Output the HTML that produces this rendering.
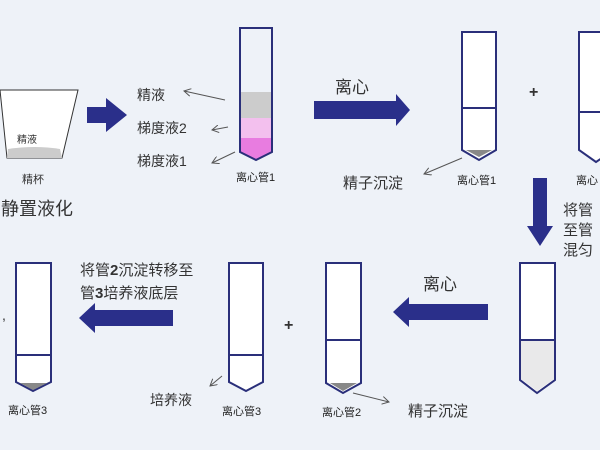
<!DOCTYPE html><html><head><meta charset="utf-8"><style>
body{margin:0;background:#eef2f8;}
svg{display:block;font-family:"Liberation Sans","Noto Sans CJK SC",sans-serif;}
</style></head><body>
<svg width="600" height="450" viewBox="0 0 600 450">
<rect width="600" height="450" fill="#eef2f8"/>
<defs><marker id="a" markerWidth="8" markerHeight="8" refX="7" refY="4" orient="auto"><path d="M0,0 L7,4 L0,8" fill="none" stroke="#555" stroke-width="1"/></marker></defs>
<!-- cup -->
<polygon points="0,90 78,90 62,158 7,158" fill="#fff" stroke="#333" stroke-width="1"/>
<path d="M8,149 Q35,145 60,149 L62,158 L7,158Z" fill="#ccc"/>
<text x="17" y="143" font-size="10" fill="#333">精液</text>
<text x="22" y="183" font-size="11" fill="#333">精杯</text>
<text x="1" y="215" font-size="18" fill="#333">静置液化</text>
<!-- arrow1 -->
<polygon points="87,107 106,107 106,98 127,115 106,132 106,123 87,123" fill="#2a2f8a"/>
<text x="137" y="100" font-size="14" fill="#333">精液</text>
<text x="137" y="133" font-size="14" fill="#333">梯度液2</text>
<text x="137" y="166" font-size="14" fill="#333">梯度液1</text>
<line x1="225" y1="100" x2="184" y2="91" stroke="#555" marker-end="url(#a)"/>
<line x1="228" y1="127" x2="212" y2="130" stroke="#555" marker-end="url(#a)"/>
<line x1="235" y1="152" x2="212" y2="163" stroke="#555" marker-end="url(#a)"/>
<!-- tube1 -->
<rect x="240" y="92" width="32" height="26" fill="#ccc"/>
<rect x="240" y="118" width="32" height="20" fill="#f3c0ee"/>
<polygon points="240,138 272,138 272,152 256,160 240,152" fill="#e87ce0"/>
<path d="M240,28 L272,28 L272,152 L256,160 L240,152 Z" fill="none" stroke="#2a2f7a" stroke-width="2"/>
<text x="236" y="181" font-size="11" fill="#222">离心管1</text>
<!-- top right -->
<text x="335" y="93" font-size="17" fill="#333">离心</text>
<polygon points="314,101 396,101 396,94 410,110 396,126 396,119 314,119" fill="#2a2f8a"/>
<path d="M462,32 L496,32 L496,150 L479,160 L462,150 Z" fill="#fff" stroke="#2a2f7a" stroke-width="2"/>
<line x1="462" y1="108" x2="496" y2="108" stroke="#2a2f7a" stroke-width="2"/>
<polygon points="466,150 492,150 479,157" fill="#888"/>
<text x="457" y="184" font-size="11" fill="#222">离心管1</text>
<text x="343" y="188" font-size="15" fill="#333">精子沉淀</text>
<line x1="462" y1="158" x2="424" y2="174" stroke="#555" marker-end="url(#a)"/>
<text x="529" y="97" font-size="16" font-weight="bold" fill="#333">+</text>
<path d="M579,32 L614,32 L614,150 L596,162 L579,150 Z" fill="#fff" stroke="#2a2f7a" stroke-width="2"/>
<line x1="579" y1="112" x2="614" y2="112" stroke="#2a2f7a" stroke-width="2"/>
<text x="576" y="184" font-size="11" fill="#222">离心</text>
<polygon points="533,178 547,178 547,226 553,226 540,246 527,226 533,226" fill="#2a2f8a"/>
<text x="563" y="215" font-size="15" fill="#333">将管</text>
<text x="563" y="235" font-size="15" fill="#333">至管</text>
<text x="563" y="255" font-size="15" fill="#333">混匀</text>
<!-- bottom right tube -->
<path d="M520,263 L555,263 L555,380 L537,393 L520,380 Z" fill="#fff" stroke="#2a2f7a" stroke-width="2"/>
<path d="M521,341 L554,341 L554,379 L537,391 L521,379Z" fill="#e9e9ea"/>
<line x1="520" y1="340" x2="555" y2="340" stroke="#2a2f7a" stroke-width="2"/>
<text x="423" y="290" font-size="17" fill="#333">离心</text>
<polygon points="488,304 409,304 409,297 393,312 409,327 409,320 488,320" fill="#2a2f8a"/>
<path d="M326,263 L361,263 L361,383 L343,393 L326,383 Z" fill="#fff" stroke="#2a2f7a" stroke-width="2"/>
<line x1="326" y1="340" x2="361" y2="340" stroke="#2a2f7a" stroke-width="2"/>
<polygon points="330,383 357,383 343,391" fill="#888"/>
<text x="322" y="416" font-size="11" fill="#222">离心管2</text>
<text x="408" y="416" font-size="15" fill="#333">精子沉淀</text>
<line x1="353" y1="393" x2="389" y2="402" stroke="#555" marker-end="url(#a)"/>
<text x="284" y="330" font-size="16" font-weight="bold" fill="#333">+</text>
<path d="M229,263 L263,263 L263,382 L246,391 L229,382 Z" fill="#fff" stroke="#2a2f7a" stroke-width="2"/>
<line x1="229" y1="355" x2="263" y2="355" stroke="#2a2f7a" stroke-width="2"/>
<text x="222" y="415" font-size="11" fill="#222">离心管3</text>
<text x="150" y="405" font-size="14" fill="#333">培养液</text>
<line x1="222" y1="376" x2="210" y2="386" stroke="#555" marker-end="url(#a)"/>
<text x="80" y="275" font-size="15" fill="#333">将管<tspan font-weight="bold">2</tspan>沉淀转移至</text>
<text x="80" y="298" font-size="15" fill="#333">管<tspan font-weight="bold">3</tspan>培养液底层</text>
<polygon points="173,310 95,310 95,303 79,318 95,333 95,326 173,326" fill="#2a2f8a"/>
<path d="M16,263 L51,263 L51,382 L33,391 L16,382 Z" fill="#fff" stroke="#2a2f7a" stroke-width="2"/>
<line x1="16" y1="355" x2="51" y2="355" stroke="#2a2f7a" stroke-width="2"/>
<polygon points="20,383 47,383 33,390" fill="#888"/>
<text x="8" y="414" font-size="11" fill="#222">离心管3</text>
<text x="2" y="320" font-size="14" fill="#333">,</text>
</svg>
</body></html>
